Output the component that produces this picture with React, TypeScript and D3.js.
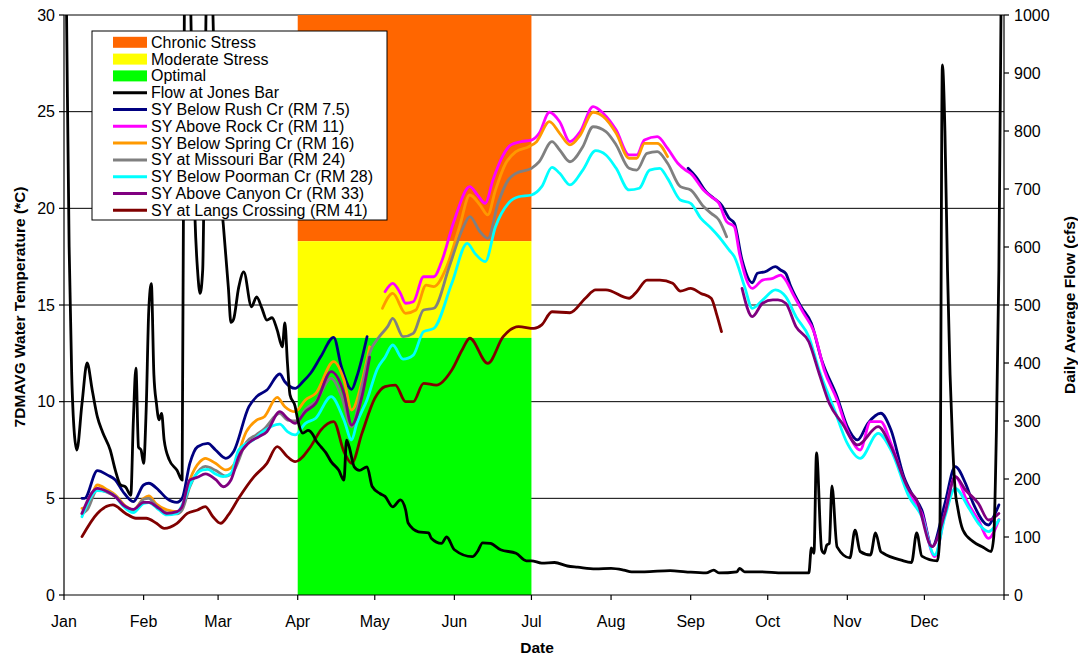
import * as React from "react";
import * as d3 from "d3";

// day-of-year (0 = Jan 1, 2008) and value pairs
type Pt = [number, number];

const monthLabels = ["Jan", "Feb", "Mar", "Apr", "May", "Jun", "Jul", "Aug", "Sep", "Oct", "Nov", "Dec"];
const tempTicks = [0, 5, 10, 15, 20, 25, 30];
const flowTicks = [0, 100, 200, 300, 400, 500, 600, 700, 800, 900, 1000];

// criteria zones (deg C), Apr 1 - Jul 1
const zoneNames = ["Chronic Stress", "Moderate Stress", "Optimal"];
const zoneLow = [18.3, 13.3, 0];
const zoneHigh = [30, 18.3, 13.3];
const zoneStartDay = 91;
const zoneEndDay = 182;

const flowJonesBar: Pt[] = [
  [0, 1400], [1, 1000], [2, 600], [3, 380], [4, 280], [5, 250], [7, 330], [9, 400], [11, 353], [13, 307],
  [15, 281], [18, 250], [20, 215], [22, 190], [24, 186], [26, 172], [27, 300], [28, 391], [29, 255], [30, 250],
  [31, 227], [32, 320], [33, 490], [34, 537], [35, 380], [36, 330], [37, 302], [38, 313], [39, 267], [41, 233],
  [44, 215], [46, 198], [47, 1150], [48, 1300], [49, 1100], [50, 850], [51, 650], [52, 560], [53, 520], [54, 560],
  [55, 900], [56, 1200], [57, 1250], [58, 1000], [59, 850], [60, 740], [62, 640], [64, 530], [65, 470], [66, 475],
  [68, 530], [70, 557], [73, 497], [75, 514], [77, 495], [79, 474], [81, 478], [83, 457], [85, 428], [86, 469],
  [87, 400], [88, 345], [90, 325], [91, 302], [93, 279], [95, 284], [97, 276], [98, 267], [100, 256], [102, 245],
  [104, 230], [107, 215], [109, 198], [110, 267], [111, 256], [113, 221], [115, 215], [118, 221], [120, 187],
  [123, 175], [125, 170], [128, 152], [131, 164], [133, 147], [134, 124], [138, 109], [142, 107], [143, 98],
  [147, 89], [149, 100], [152, 78], [159, 66], [161, 75], [163, 90], [166, 89], [170, 78], [176, 72], [180, 59],
  [182, 59], [186, 55], [191, 56], [196, 50], [200, 48], [207, 45], [213, 46], [218, 43], [221, 40], [226, 40],
  [236, 42], [242, 40], [250, 38], [253, 43], [255, 38], [262, 40], [263, 46], [265, 40], [271, 40], [280, 38],
  [290, 38], [291, 81], [292, 72], [293, 245], [295, 78], [296, 72], [297, 86], [298, 89], [299, 188], [301, 83],
  [306, 64], [308, 112], [310, 75], [314, 69], [316, 107], [318, 75], [319, 72], [326, 60], [330, 56], [332, 107],
  [334, 67], [340, 59], [341, 100], [342, 914], [343, 800], [344, 560], [345, 380], [346, 260], [347, 180],
  [348, 150], [350, 112], [354, 92], [358, 82], [361, 75], [362, 100], [363, 273], [364, 560], [365, 1100], [366, 1600],
];

const rushCrA: Pt[] = [
  [7, 5.0], [8, 5.0], [13, 6.43], [17, 6.2], [20, 5.95], [23, 5.34], [27, 4.83], [31, 5.69], [33, 5.78], [37, 5.4],
  [40, 5.0], [44, 4.79], [46, 5.0], [49, 6.81], [52, 7.67], [56, 7.84], [59, 7.5], [63, 7.07], [66, 7.41], [72, 9.74],
  [75, 10.26], [79, 10.6], [84, 11.43], [86, 11.03], [90, 10.69], [93, 11.03], [96, 11.47], [100, 12.33], [105, 13.33],
  [108, 11.81], [112, 10.64], [114, 11.29], [118, 13.36],
];
const rushCrB: Pt[] = [
  [243, 22.07], [246, 21.64], [250, 20.86], [253, 20.52], [256, 20.17], [259, 19.48], [261, 19.23], [264, 17.33],
  [268, 16.15], [270, 16.64], [273, 16.72], [277, 16.98], [279, 16.81], [281, 16.64], [283, 15.95], [287, 14.91],
  [291, 14.05], [295, 12.16], [301, 10.26], [305, 8.71], [309, 8.02], [313, 8.88], [318, 9.4], [322, 8.53],
  [327, 6.12], [330, 5.26], [334, 4.4], [338, 2.5], [343, 4.74], [347, 6.64], [351, 5.78], [354, 4.74],
  [360, 3.62], [362, 4.05], [364, 4.66],
];
const rockCr: Pt[] = [
  [125, 15.69], [128, 16.12], [131, 15.6], [133, 15.09], [136, 15.17], [140, 16.46], [144, 16.46], [147, 17.24],
  [152, 19.4], [158, 21.12], [161, 20.69], [164, 20.26], [167, 21.47], [171, 22.76], [174, 23.28], [178, 23.45],
  [182, 23.53], [185, 23.88], [189, 24.97], [193, 24.48], [197, 23.45], [201, 23.97], [206, 25.26], [210, 24.91],
  [215, 24.05], [220, 22.76], [223, 22.76], [226, 23.53], [231, 23.71], [235, 23.1], [239, 22.33], [242, 21.98],
  [244, 21.81], [249, 20.95], [252, 20.6], [255, 20.26], [258, 19.31], [261, 19.05], [263, 17.67], [268, 15.86],
  [272, 16.29], [276, 16.38], [279, 16.55], [281, 16.29], [284, 15.52], [288, 14.57], [292, 13.62], [296, 11.64],
  [301, 10.09], [305, 8.53], [310, 7.5], [314, 8.97], [318, 8.97], [322, 7.84], [329, 5.26], [334, 4.22],
  [339, 1.98], [343, 4.22], [347, 6.12], [352, 4.74], [356, 3.88], [360, 2.93], [364, 3.9],
];
const springCrA: Pt[] = [
  [7, 4.48], [9, 4.57], [13, 5.69], [17, 5.43], [20, 5.17], [24, 4.6], [27, 4.4], [31, 5.0], [33, 5.12], [36, 4.7],
  [40, 4.4], [44, 4.31], [46, 4.57], [49, 5.95], [53, 6.9], [55, 7.07], [59, 6.81], [63, 6.47], [66, 6.72], [71, 8.45],
  [75, 9.05], [78, 9.22], [83, 10.22], [86, 9.74], [90, 9.48], [94, 10.09], [98, 10.43], [105, 12.07], [109, 11.12],
  [112, 9.57], [116, 11.03], [119, 12.84],
];
const springCrB: Pt[] = [
  [124, 14.83], [128, 15.6], [133, 14.57], [137, 14.74], [141, 16.03], [144, 15.95], [149, 16.98], [154, 19.05],
  [158, 20.69], [162, 20.17], [165, 19.66], [168, 20.95], [172, 22.33], [176, 22.93], [181, 23.19], [184, 23.45],
  [189, 24.48], [193, 23.88], [197, 23.28], [201, 23.79], [206, 24.97], [210, 24.74], [215, 23.88], [220, 22.59],
  [223, 22.59], [226, 23.36], [231, 23.36], [235, 22.67],
];
const missouriBar: Pt[] = [
  [7, 4.2], [9, 4.4], [13, 5.45], [17, 5.3], [20, 5.1], [24, 4.55], [27, 4.35], [31, 4.95], [33, 5.0], [36, 4.6],
  [40, 4.25], [44, 4.2], [46, 4.4], [49, 5.6], [53, 6.5], [55, 6.65], [59, 6.45], [63, 6.15], [66, 6.4], [71, 7.9],
  [75, 8.3], [78, 8.6], [84, 9.4], [87, 9.05], [91, 9.0], [94, 9.6], [98, 10.0], [104, 11.2], [108, 10.3],
  [112, 8.7], [116, 10.8], [119, 12.5], [123, 13.4], [126, 13.88], [128, 14.31], [132, 13.36], [136, 13.53],
  [140, 14.74], [144, 14.83], [150, 16.98], [155, 18.88], [158, 19.57], [162, 18.79], [165, 18.45], [169, 20.26],
  [173, 21.47], [176, 21.81], [182, 22.07], [185, 22.41], [190, 23.45], [193, 23.02], [197, 22.41], [202, 23.19],
  [206, 24.22], [211, 23.97], [215, 23.28], [220, 22.07], [223, 21.98], [227, 22.84], [231, 22.93], [235, 22.33],
  [240, 21.12], [244, 20.95], [249, 20.09], [252, 19.74], [255, 19.4], [258, 18.53],
];
const poormanCr: Pt[] = [
  [7, 4.05], [13, 5.4], [17, 5.34], [20, 5.09], [23, 4.6], [27, 4.26], [31, 4.74], [33, 4.78], [37, 4.4], [40, 4.14],
  [44, 4.22], [46, 4.66], [50, 5.95], [54, 6.47], [56, 6.5], [59, 6.26], [62, 6.12], [65, 6.29], [68, 7.5], [74, 8.05],
  [77, 8.4], [84, 8.84], [87, 8.45], [90, 8.28], [94, 8.88], [98, 9.14], [104, 10.26], [109, 9.05], [112, 8.02],
  [114, 8.88], [118, 10.1], [122, 11.7], [125, 12.3], [128, 12.93], [132, 12.2], [136, 12.41], [140, 13.62],
  [144, 13.79], [151, 16.12], [157, 18.19], [160, 17.67], [164, 17.24], [168, 19.05], [173, 20.26], [177, 20.6],
  [182, 20.69], [186, 21.12], [190, 22.12], [193, 21.81], [197, 21.21], [202, 21.98], [207, 22.98], [211, 22.76],
  [215, 22.07], [220, 20.95], [224, 21.04], [228, 21.98], [232, 22.07], [235, 21.55], [240, 20.43], [244, 20.26],
  [248, 19.48], [252, 18.97], [255, 18.53], [259, 17.84], [261, 17.5], [265, 15.95], [268, 14.83], [272, 15.26],
  [277, 15.78], [279, 15.69], [281, 15.43], [285, 14.4], [290, 13.36], [294, 11.64], [300, 9.57], [305, 7.84],
  [310, 7.07], [317, 8.36], [322, 7.5], [329, 5.09], [334, 4.05], [339, 2.07], [343, 4.05], [347, 5.52],
  [352, 4.57], [356, 3.71], [360, 3.28], [364, 3.88],
];
const canyonCrA: Pt[] = [
  [7, 4.22], [13, 5.52], [17, 5.34], [20, 5.09], [23, 4.66], [27, 4.43], [31, 4.79], [33, 4.79], [37, 4.48], [40, 4.22],
  [44, 4.31], [46, 4.57], [49, 5.95], [52, 6.09], [55, 6.26], [59, 5.98], [62, 5.6], [65, 5.95], [68, 7.15], [72, 7.88],
  [76, 8.19], [79, 8.45], [84, 9.48], [87, 9.14], [90, 8.88], [94, 9.48], [98, 9.91], [104, 11.55], [109, 10.43],
  [112, 8.79], [116, 10.26], [119, 12.3],
];
const canyonCrB: Pt[] = [
  [264, 15.86], [268, 14.4], [272, 15.09], [276, 15.26], [278, 15.26], [281, 15.09], [285, 13.88], [290, 13.1],
  [294, 11.47], [298, 9.91], [303, 8.88], [309, 7.76], [317, 8.71], [322, 7.67], [329, 5.43], [332, 4.91],
  [338, 2.5], [343, 4.22], [347, 6.12], [351, 5.43], [356, 4.74], [360, 3.88], [364, 4.22],
];
const langsCrossing: Pt[] = [
  [7, 3.02], [13, 4.22], [19, 4.66], [24, 4.22], [28, 3.97], [32, 3.97], [36, 3.71], [39, 3.45], [44, 3.71], [48, 4.22],
  [52, 4.4], [55, 4.57], [58, 4.05], [61, 3.71], [64, 4.14], [68, 5.0], [74, 6.12], [79, 6.81], [83, 7.67], [87, 7.15],
  [90, 6.9], [96, 7.67], [100, 8.53], [105, 8.97], [109, 7.41], [112, 6.81], [116, 8.36], [121, 10.17], [125, 10.78],
  [129, 10.86], [133, 10.0], [136, 10.0], [140, 10.95], [145, 10.86], [151, 11.64], [155, 12.67], [158, 13.28],
  [165, 11.98], [171, 13.36], [177, 13.88], [183, 13.79], [186, 13.97], [190, 14.65], [197, 14.6], [203, 15.35],
  [207, 15.78], [211, 15.78], [220, 15.35], [223, 15.69], [227, 16.29], [232, 16.29], [237, 16.12], [240, 15.72],
  [244, 15.86], [248, 15.6], [252, 15.35], [254, 14.57], [256, 13.62],
];

const seriesNames = [
  "Flow at Jones Bar",
  "SY Below Rush Cr (RM 7.5)",
  "SY Above Rock Cr (RM 11)",
  "SY Below Spring Cr (RM 16)",
  "SY at Missouri Bar (RM 24)",
  "SY Below Poorman Cr (RM 28)",
  "SY Above Canyon Cr (RM 33)",
  "SY at Langs Crossing (RM 41)",
];
const tempSegments: Pt[][][] = [
  [rushCrA, rushCrB],
  [rockCr],
  [springCrA, springCrB],
  [missouriBar],
  [poormanCr],
  [canyonCrA, canyonCrB],
  [langsCrossing],
];

const zoneColors = ["#FF6600", "#FFFF00", "#00FF00"];
const seriesColors = ["#000000", "#000080", "#FF00FF", "#FF9900", "#808080", "#00FFFF", "#800080", "#800000"];

const W = 1078;
const H = 656;
const left = 64;
const right = 1004;
const top = 15;
const bottom = 595;
const FONT = "Arial, 'Liberation Sans', sans-serif";

const toDate = (d: number) => new Date(2008, 0, 1 + d);

export default function App() {
  const x = d3.scaleTime().domain([new Date(2008, 0, 1), new Date(2009, 0, 1)]).range([left, right]);
  const yT = d3.scaleLinear().domain([0, 30]).range([bottom, top]);
  const yF = d3.scaleLinear().domain([0, 1000]).range([bottom, top]);

  const tempLine = d3
    .line<Pt>()
    .x((p) => x(toDate(p[0])))
    .y((p) => yT(p[1]))
    .curve(d3.curveMonotoneX);
  const flowLine = d3
    .line<Pt>()
    .x((p) => x(toDate(p[0])))
    .y((p) => yF(p[1]))
    .curve(d3.curveMonotoneX);

  const monthTicks = d3.timeMonth.range(new Date(2008, 0, 1), new Date(2009, 0, 2));
  const zx0 = x(toDate(zoneStartDay));
  const zx1 = x(toDate(zoneEndDay));

  const legendX = 92;
  const legendY = 31;
  const rowH = 16.8;
  const legendItems = [
    ...zoneNames.map((n, i) => ({ name: n, kind: "box", color: zoneColors[i] })),
    ...seriesNames.map((n, i) => ({ name: n, kind: "line", color: seriesColors[i] })),
  ];

  return (
    <svg
      width={W}
      height={H}
      style={{ position: "absolute", left: 0, top: 0, background: "#fff" }}
      fontFamily={FONT}
    >
      <defs>
        <clipPath id="plot">
          <rect x={left} y={top} width={right - left} height={bottom - top} />
        </clipPath>
      </defs>
      <rect width={W} height={H} fill="#fff" />

      {/* gridlines */}
      {tempTicks.slice(1).map((t) => (
        <line key={t} x1={left} x2={right} y1={yT(t)} y2={yT(t)} stroke="#000" strokeWidth={1} />
      ))}

      {/* criteria zones */}
      {zoneNames.map((n, i) => (
        <rect
          key={n}
          x={zx0}
          width={zx1 - zx0}
          y={yT(zoneHigh[i])}
          height={yT(zoneLow[i]) - yT(zoneHigh[i])}
          fill={zoneColors[i]}
        />
      ))}

      <g clipPath="url(#plot)" fill="none" strokeLinejoin="round" strokeLinecap="round">
        {tempSegments.map((segs, i) =>
          segs.map((s, j) => (
            <path key={`${i}-${j}`} d={tempLine(s) || ""} stroke={seriesColors[i + 1]} strokeWidth={2.8} />
          ))
        )}
        <path d={flowLine(flowJonesBar) || ""} stroke={seriesColors[0]} strokeWidth={2.8} />
      </g>

      {/* axes */}
      <g stroke="#000" strokeWidth={1.2}>
        <line x1={left} x2={left} y1={top} y2={bottom} />
        <line x1={right} x2={right} y1={top} y2={bottom} />
        <line x1={left} x2={right} y1={bottom} y2={bottom} />
        {tempTicks.map((t) => (
          <line key={t} x1={left - 5} x2={left} y1={yT(t)} y2={yT(t)} />
        ))}
        {flowTicks.map((t) => (
          <line key={t} x1={right} x2={right + 5} y1={yF(t)} y2={yF(t)} />
        ))}
        {monthTicks.map((m) => (
          <line key={+m} x1={x(m)} x2={x(m)} y1={bottom} y2={bottom + 5} />
        ))}
      </g>
      <g fontSize={16} fill="#000">
        {tempTicks.map((t) => (
          <text key={t} x={left - 9} y={yT(t)} textAnchor="end" dominantBaseline="central">
            {t}
          </text>
        ))}
        {flowTicks.map((t) => (
          <text key={t} x={right + 10} y={yF(t)} textAnchor="start" dominantBaseline="central">
            {t}
          </text>
        ))}
        {monthTicks.slice(0, 12).map((m, i) => (
          <text key={+m} x={x(m)} y={621} textAnchor="middle" dominantBaseline="central">
            {monthLabels[i]}
          </text>
        ))}
      </g>
      <g fontSize={15.5} fontWeight="bold" fill="#000">
        <text x={537} y={647} textAnchor="middle" dominantBaseline="central">
          Date
        </text>
        <text
          transform={`translate(19,${307}) rotate(-90)`}
          textAnchor="middle"
          dominantBaseline="central"
        >
          7DMAVG Water Temperature (*C)
        </text>
        <text
          transform={`translate(1069,${(top + bottom) / 2}) rotate(-90)`}
          textAnchor="middle"
          dominantBaseline="central"
        >
          Daily Average Flow (cfs)
        </text>
      </g>

      {/* legend */}
      <g>
        <rect x={legendX} y={legendY} width={295} height={189} fill="#fff" stroke="#000" strokeWidth={1} />
        {legendItems.map((it, i) => {
          const cy = legendY + 11.3 + i * rowH;
          return (
            <g key={it.name}>
              {it.kind === "box" ? (
                <rect x={113} y={cy - 5.5} width={34} height={11} fill={it.color} />
              ) : (
                <line x1={113} x2={147} y1={cy} y2={cy} stroke={it.color} strokeWidth={3} />
              )}
              <text x={151} y={cy} fontSize={16} dominantBaseline="central" fill="#000">
                {it.name}
              </text>
            </g>
          );
        })}
      </g>
    </svg>
  );
}
